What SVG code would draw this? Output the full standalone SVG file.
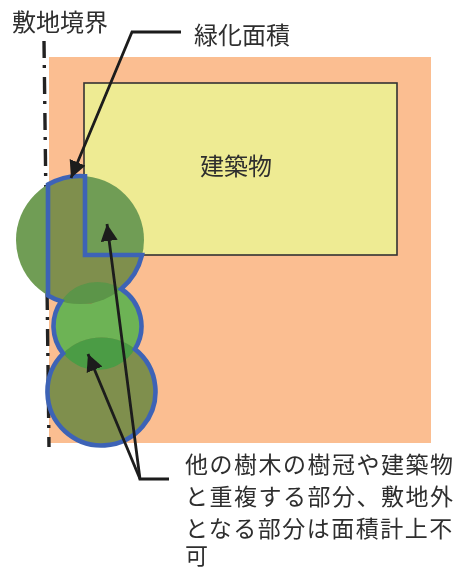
<svg xmlns="http://www.w3.org/2000/svg" width="460" height="570" viewBox="0 0 460 570">
<style>
text{font-family:"Liberation Sans","Noto Sans CJK JP",sans-serif;font-size:24px;fill:#2e2e2e}
.note{font-size:23px;letter-spacing:1.5px}
.lead{fill:none;stroke:#1c1c1c;stroke-width:2.6}
.arr{fill:none;stroke:#1c1c1c;stroke-width:2.8;marker-end:url(#ah)}
.olive{fill:#7f8f4e}
</style>
<defs>
<marker id="ah" markerUnits="userSpaceOnUse" markerWidth="20" markerHeight="20" refX="17" refY="8.5" orient="auto"><path d="M0,0L17,8.5L0,17Z" fill="#1c1c1c"/></marker>
<clipPath id="cBig"><circle cx="80" cy="240" r="64"/></clipPath>
<clipPath id="cBot"><circle cx="101.5" cy="391.5" r="54"/></clipPath>
<filter id="soft" x="-5%" y="-5%" width="110%" height="110%"><feGaussianBlur stdDeviation="0.6"/></filter>
</defs>
<g filter="url(#soft)">
<g id="site"><rect x="49" y="57" width="382" height="386" fill="#fbbe91"/></g>
<g id="building"><rect x="84" y="83" width="313" height="172" fill="#eeeb93" stroke="#333" stroke-width="1.6"/>
<text x="200" y="175">建築物</text></g>
<g id="boundary"><path d="M44,41L49,447" fill="none" stroke="#222" stroke-width="3.4" stroke-dasharray="17 7 3 9"/><text x="12" y="31">敷地境界</text></g>
<g id="trees">
<circle cx="80" cy="240" r="64" fill="#6f9d55"/>
<circle cx="97.5" cy="326" r="44" fill="#6db354"/>
<circle cx="101.5" cy="391.5" r="54" class="olive"/>
<path class="olive" d="M48,184.6A64,64 0 0 1 85,176.2V255H142A64,64 0 0 1 121.2,289L91,304L61.2,301.2L48,295.4Z"/>
<circle cx="97.5" cy="326" r="44" fill="#5b9548" clip-path="url(#cBig)"/>
<circle cx="97.5" cy="326" r="44" fill="#4b9c45" clip-path="url(#cBot)"/>
</g>
<g id="greenArea"><path d="M48,184.6A64,64 0 0 1 85,176.2V255H142A64,64 0 0 1 121.2,289A44,44 0 0 1 134.9,349.1A54,54 0 1 1 63.1,353.5A44,44 0 0 1 61.2,301.2A64,64 0 0 1 48,295.4Z" fill="none" stroke="#3e64b6" stroke-width="4.6"/></g>
<g id="connectors">
<path class="arr" d="M181,32H132L71,178"/>
<path class="arr" d="M169,479H140L107,224"/>
<path class="arr" d="M140,479L88,354"/>
</g>
<g id="labels">
<text x="194" y="44">緑化面積</text>
<text class="note" x="185" y="473">他の樹木の樹冠や建築物</text>
<text class="note" x="185" y="505">と重複する部分、敷地外</text>
<text class="note" x="185" y="537">となる部分は面積計上不</text>
<text class="note" x="185" y="564">可</text>
</g>
</g>
</svg>
